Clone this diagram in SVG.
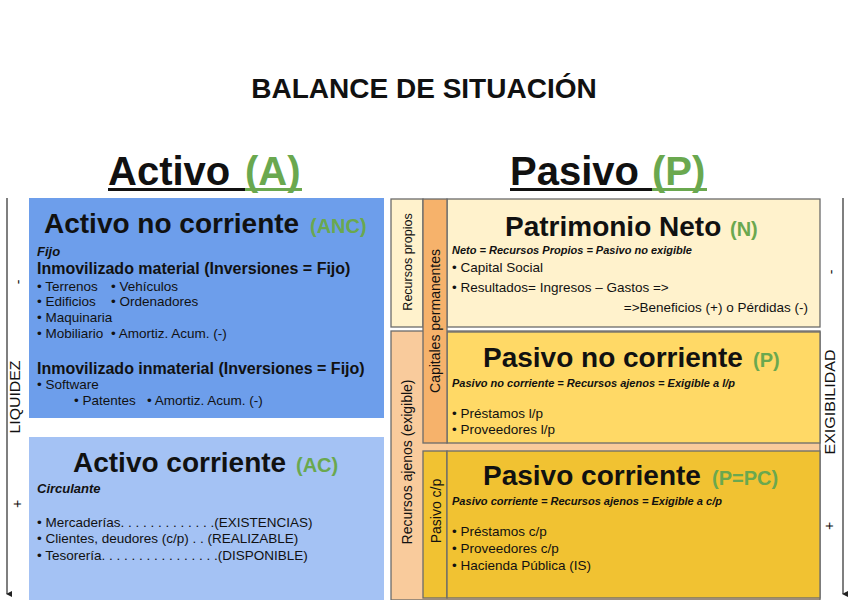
<svg xmlns="http://www.w3.org/2000/svg" width="848" height="600" viewBox="0 0 848 600">
<defs>
<marker id="ah" markerWidth="6" markerHeight="6" refX="3" refY="5" orient="auto-start-reverse" markerUnits="userSpaceOnUse">
<path d="M0,0 L6,0 L3,6 Z" fill="#222"/>
</marker>
</defs>
<style>
text{font-family:"Liberation Sans",Arial,sans-serif;fill:#111}
.title{font-size:28px;font-weight:bold}
.head{font-size:40px;font-weight:bold}
.h2{font-size:28px;font-weight:bold}
.g{fill:#6aa84f;font-weight:bold}
.g20{font-size:20px}
.sub{font-size:16px;font-weight:bold}
.bi{font-size:13px;font-weight:bold;font-style:italic}
.bi11{font-size:11px;font-weight:bold;font-style:italic}
.it{font-size:13.5px}
.vl{font-size:14px;text-anchor:middle}
.vs{font-size:12.5px;text-anchor:middle}
.box{stroke:#6b6b6b;stroke-width:1.3}
.axis{stroke:#555;stroke-width:1.5;fill:none}
</style>
<rect width="848" height="600" fill="#fff"/>
<text class="title" x="424" y="98" text-anchor="middle">BALANCE DE SITUACIÓN</text>
<g id="heading-activo">
<text class="head" x="108" y="185">Activo</text>
<text class="head g" x="245" y="185">(A)</text>
<rect x="108" y="188" width="137" height="3" fill="#111"/>
<rect x="245" y="188" width="57" height="3" fill="#6aa84f"/>
</g>
<g id="heading-pasivo">
<text class="head" x="510" y="185">Pasivo</text>
<text class="head g" x="652" y="185">(P)</text>
<rect x="510" y="188" width="142" height="3" fill="#111"/>
<rect x="652" y="188" width="55" height="3" fill="#6aa84f"/>
</g>
<g id="activo-no-corriente">
<rect x="29" y="198" width="355" height="220" fill="#6d9eeb"/>
<text class="h2" x="44" y="233">Activo no corriente</text>
<text class="g g20" x="310" y="233">(ANC)</text>
<text class="bi" x="37" y="256">Fijo</text>
<text class="sub" x="37" y="274">Inmovilizado material (Inversiones = Fijo)</text>
<text class="it" x="37" y="291">• Terrenos</text>
<text class="it" x="111" y="291">• Vehículos</text>
<text class="it" x="37" y="306">• Edificios</text>
<text class="it" x="111" y="306">• Ordenadores</text>
<text class="it" x="37" y="322">• Maquinaria</text>
<text class="it" x="37" y="338">• Mobiliario</text>
<text class="it" x="111" y="338">• Amortiz. Acum. (-)</text>
<text class="sub" x="37" y="374">Inmovilizado inmaterial (Inversiones = Fijo)</text>
<text class="it" x="37" y="389">• Software</text>
<text class="it" x="74" y="405">• Patentes</text>
<text class="it" x="147" y="405">• Amortiz. Acum. (-)</text>
</g>
<g id="activo-corriente">
<rect x="29" y="437" width="355" height="163" fill="#a4c2f4"/>
<text class="h2" x="73" y="472">Activo corriente</text>
<text class="g g20" x="296" y="472">(AC)</text>
<text class="bi" x="37" y="493">Circulante</text>
<text class="it" x="37" y="527">• Mercaderías. . . . . . . . . . . . .(EXISTENCIAS)</text>
<text class="it" x="37" y="543">• Clientes, deudores (c/p) . . (REALIZABLE)</text>
<text class="it" x="37" y="560">• Tesorería. . . . . . . . . . . . . . . .(DISPONIBLE)</text>
</g>
<g id="recursos-ajenos">
<rect class="box" x="391" y="331" width="429" height="269" fill="#f9cb9c"/>
<text class="vl" transform="translate(412,462) rotate(-90)">Recursos ajenos (exigible)</text>
</g>
<g id="recursos-propios">
<rect class="box" x="391" y="199" width="32" height="128" fill="#fff2cc"/>
<text class="vs" transform="translate(411.5,262) rotate(-90)">Recursos propios</text>
</g>
<g id="patrimonio-neto">
<rect class="box" x="447" y="199" width="373" height="128" fill="#fff2cc"/>
<text class="h2" x="505" y="236">Patrimonio Neto</text>
<text class="g g20" x="730" y="236">(N)</text>
<text class="bi11" x="452" y="254" textLength="240" lengthAdjust="spacingAndGlyphs">Neto = Recursos Propios = Pasivo no exigible</text>
<text class="it" x="452" y="272">• Capital Social</text>
<text class="it" x="452" y="292">• Resultados= Ingresos – Gastos =&gt;</text>
<text class="it" x="808" y="312" text-anchor="end">=&gt;Beneficios (+) o Pérdidas (-)</text>
</g>
<g id="pasivo-no-corriente">
<rect class="box" x="447" y="332" width="373" height="111" fill="#ffd966"/>
<text class="h2" x="483" y="367">Pasivo no corriente</text>
<text class="g g20" x="753" y="367">(P)</text>
<text class="bi11" x="452" y="387" textLength="283" lengthAdjust="spacingAndGlyphs">Pasivo no corriente = Recursos ajenos = Exigible a l/p</text>
<text class="it" x="452" y="418">• Préstamos l/p</text>
<text class="it" x="452" y="434">• Proveedores l/p</text>
</g>
<g id="capitales-permanentes">
<rect class="box" x="423" y="199" width="24" height="244" fill="#f6b26b"/>
<text class="vl" transform="translate(440,321) rotate(-90)">Capitales permanentes</text>
</g>
<g id="pasivo-cp">
<rect class="box" x="423" y="451" width="24" height="147" fill="#f1c232"/>
<text class="vl" transform="translate(441,511) rotate(-90)">Pasivo c/p</text>
</g>
<g id="pasivo-corriente">
<rect class="box" x="447" y="451" width="373" height="147" fill="#f1c232"/>
<text class="h2" x="483" y="485">Pasivo corriente</text>
<text class="g g20" x="712" y="485">(P=PC)</text>
<text class="bi11" x="452" y="505" textLength="270" lengthAdjust="spacingAndGlyphs">Pasivo corriente = Recursos ajenos = Exigible a c/p</text>
<text class="it" x="452" y="536">• Préstamos c/p</text>
<text class="it" x="452" y="553">• Proveedores c/p</text>
<text class="it" x="452" y="570">• Hacienda Pública (IS)</text>
</g>
<g id="connectors">
<line class="axis" x1="7" y1="198" x2="7" y2="594" marker-end="url(#ah)"/>
<line class="axis" x1="843" y1="198" x2="843" y2="594" marker-end="url(#ah)"/>
</g>
<g id="liquidez-axis">
<text class="vl" transform="translate(20,397) rotate(-90)" textLength="73" lengthAdjust="spacingAndGlyphs">LIQUIDEZ</text>
<text class="vl" transform="translate(23,282) rotate(-90)">-</text>
<text class="vl" transform="translate(22,504) rotate(-90)">+</text>
</g>
<g id="exigibilidad-axis">
<text class="vl" transform="translate(835,402) rotate(-90)" textLength="105" lengthAdjust="spacingAndGlyphs">EXIGIBILIDAD</text>
<text class="vl" transform="translate(836,272) rotate(-90)">-</text>
<text class="vl" transform="translate(834,526) rotate(-90)">+</text>
</g>
</svg>
